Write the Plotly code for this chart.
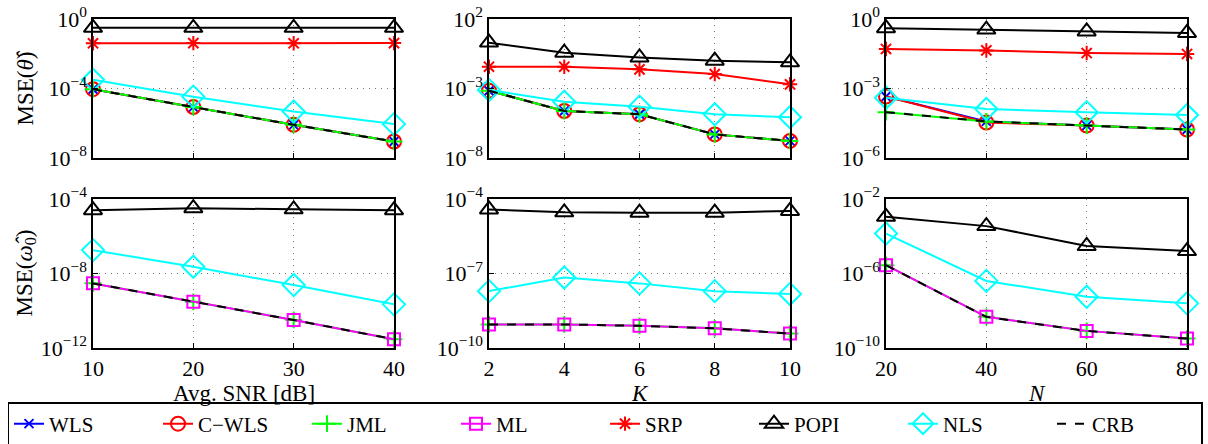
import plotly.graph_objects as go

# ---------------- data ----------------
snr = [10, 20, 30, 40]
K = [2, 4, 6, 8, 10]
N = [20, 40, 60, 80]

# MSE(theta) vs SNR
th_snr_wls = [9.1e-5, 8.5e-6, 8.1e-7, 8.9e-8]
th_snr_cwls = [9.1e-5, 8.5e-6, 8.1e-7, 8.9e-8]
th_snr_jml = [9.1e-5, 8.5e-6, 8.1e-7, 8.9e-8]
th_snr_srp = [0.040, 0.041, 0.040, 0.041]
th_snr_popi = [0.31, 0.31, 0.31, 0.31]
th_snr_nls = [3.2e-4, 3.4e-5, 4.7e-6, 8.9e-7]
th_snr_crb = [9.0e-5, 8.5e-6, 8.1e-7, 8.9e-8]

# MSE(theta) vs K
th_k_wls = [6.9e-4, 2.4e-5, 1.4e-5, 5.0e-7, 1.7e-7]
th_k_cwls = [6.9e-4, 2.4e-5, 1.4e-5, 5.0e-7, 1.7e-7]
th_k_jml = [6.9e-4, 2.4e-5, 1.4e-5, 5.0e-7, 1.7e-7]
th_k_srp = [0.037, 0.037, 0.024, 0.011, 0.002]
th_k_popi = [2.0, 0.38, 0.17, 0.10, 0.076]
th_k_nls = [7.9e-4, 1.1e-4, 4.9e-5, 1.4e-5, 8.5e-6]
th_k_crb = [6.9e-4, 2.4e-5, 1.4e-5, 5.0e-7, 1.7e-7]

# MSE(theta) vs N
th_n_wls = [4.5e-4, 3.8e-5, 2.5e-5, 1.7e-5]
th_n_cwls = [4.5e-4, 3.4e-5, 2.5e-5, 1.7e-5]
th_n_jml = [9.5e-5, 3.8e-5, 2.5e-5, 1.7e-5]
th_n_srp = [0.051, 0.044, 0.034, 0.031]
th_n_popi = [0.40, 0.35, 0.29, 0.25]
th_n_nls = [4.0e-4, 1.3e-4, 9.5e-5, 7.2e-5]
th_n_crb = [9.5e-5, 3.8e-5, 2.5e-5, 1.7e-5]

# MSE(omega0) vs SNR
om_snr_jml = [2.95e-9, 3.0e-10, 3.2e-11, 2.95e-12]
om_snr_ml = [2.95e-9, 3.0e-10, 3.2e-11, 2.95e-12]
om_snr_popi = [2.5e-5, 3.2e-5, 2.8e-5, 2.5e-5]
om_snr_nls = [1.8e-7, 2.3e-8, 2.4e-9, 2.2e-10]
om_snr_crb = [2.95e-9, 3.0e-10, 3.2e-11, 2.95e-12]

# MSE(omega0) vs K
om_k_jml = [8.9e-10, 8.9e-10, 7.8e-10, 6.2e-10, 3.8e-10]
om_k_ml = [8.9e-10, 8.9e-10, 7.8e-10, 6.2e-10, 3.8e-10]
om_k_popi = [3.8e-5, 2.9e-5, 2.8e-5, 2.8e-5, 3.3e-5]
om_k_nls = [1.95e-8, 6.9e-8, 4.0e-8, 1.95e-8, 1.5e-8]
om_k_crb = [8.9e-10, 8.9e-10, 7.8e-10, 6.2e-10, 3.8e-10]

# MSE(omega0) vs N
om_n_jml = [2.8e-6, 4.7e-9, 8.3e-10, 3.2e-10]
om_n_ml = [2.8e-6, 4.7e-9, 8.3e-10, 3.2e-10]
om_n_popi = [1.1e-3, 3.5e-4, 3.0e-5, 1.6e-5]
om_n_nls = [1.4e-4, 4.0e-7, 5.6e-8, 2.5e-8]
om_n_crb = [2.8e-6, 4.7e-9, 8.3e-10, 3.2e-10]

# tick values
x_ticks = [snr, K, N]
y_exps = [
    [-8, -4, 0], [-8, -3, 2], [-6, -3, 0],
    [-12, -8, -4], [-10, -7, -4], [-10, -6, -2],
]
x_titles = ["Avg. SNR [dB]", "<i>K</i>", "<i>N</i>"]
y_titles = ["MSE(<i>\u03b8\u0302</i>)", "MSE(<i>\u03c9\u0302</i><sub>0</sub>)"]

# ---------------- styles ----------------
FONT = "Liberation Serif"
styles = {
    "WLS": dict(color="#0000ff", symbol="x-thin-open", size=9, dash="solid", rank=1),
    "C\u2212WLS": dict(color="#ff0000", symbol="circle-open", size=14, dash="solid", rank=2),
    "JML": dict(color="#00ff00", symbol="cross-thin-open", size=12, dash="solid", rank=3),
    "ML": dict(color="#ff00ff", symbol="square-open", size=12, dash="solid", rank=4),
    "SRP": dict(color="#ff0000", symbol="asterisk-open", size=12, dash="solid", rank=5),
    "POPI": dict(color="#000000", symbol="triangle-up-open", size=16, dash="solid", rank=6),
    "NLS": dict(color="#00ffff", symbol="diamond-open", size=17, dash="solid", rank=7),
    "CRB": dict(color="#000000", symbol=None, size=0, dash="dash", rank=8),
}

panels = [
    (snr, [("WLS", th_snr_wls), ("C\u2212WLS", th_snr_cwls), ("JML", th_snr_jml),
           ("SRP", th_snr_srp), ("POPI", th_snr_popi), ("NLS", th_snr_nls), ("CRB", th_snr_crb)]),
    (K, [("WLS", th_k_wls), ("C\u2212WLS", th_k_cwls), ("JML", th_k_jml),
         ("SRP", th_k_srp), ("POPI", th_k_popi), ("NLS", th_k_nls), ("CRB", th_k_crb)]),
    (N, [("WLS", th_n_wls), ("C\u2212WLS", th_n_cwls), ("JML", th_n_jml),
         ("SRP", th_n_srp), ("POPI", th_n_popi), ("NLS", th_n_nls), ("CRB", th_n_crb)]),
    (snr, [("JML", om_snr_jml), ("ML", om_snr_ml), ("POPI", om_snr_popi),
           ("NLS", om_snr_nls), ("CRB", om_snr_crb)]),
    (K, [("JML", om_k_jml), ("ML", om_k_ml), ("POPI", om_k_popi),
         ("NLS", om_k_nls), ("CRB", om_k_crb)]),
    (N, [("JML", om_n_jml), ("ML", om_n_ml), ("POPI", om_n_popi),
         ("NLS", om_n_nls), ("CRB", om_n_crb)]),
]

# full-window figure; the page's default body margin is removed below
W, H = 1208, 444
xdom_px = [(93, 394), (489, 790), (886, 1187)]
ydom_px = [(19, 158), (199, 348)]

fig = go.Figure()
shown = set()
for i, (xv, series) in enumerate(panels):
    ax = "" if i == 0 else str(i + 1)
    for name, yv in series:
        st = styles[name]
        mk = dict(symbol=st["symbol"], size=st["size"], color=st["color"],
                  line=dict(color=st["color"], width=2)) if st["symbol"] else None
        fig.add_trace(go.Scatter(
            x=xv, y=yv, name=name, legendgroup=name, legendrank=st["rank"],
            showlegend=name not in shown,
            mode="lines+markers" if st["symbol"] else "lines",
            line=dict(color=st["color"], width=2, dash=st["dash"]),
            marker=mk, xaxis="x" + ax, yaxis="y" + ax, cliponaxis=False,
        ))
        shown.add(name)

layout = {}
annotations = []
for i in range(6):
    r, c = divmod(i, 3)
    ax = "" if i == 0 else str(i + 1)
    x0, x1 = xdom_px[c]
    y0, y1 = ydom_px[r]
    xt = x_ticks[c]
    layout["xaxis" + ax] = dict(
        domain=[x0 / W, x1 / W], anchor="y" + ax, range=[xt[0], xt[-1]],
        tickvals=xt, ticktext=[str(v) for v in xt], showticklabels=(r == 1),
        ticks="inside", ticklen=5, tickcolor="black", ticklabeloverflow="allow",
        showline=True, mirror=True, linecolor="black", linewidth=1.5,
        showgrid=True, gridcolor="#777777", griddash="1px,5px", gridwidth=1,
        zeroline=False, tickfont=dict(family=FONT, size=22, color="black"),
    )
    ex = y_exps[i]
    layout["yaxis" + ax] = dict(
        domain=[1 - y1 / H, 1 - y0 / H], anchor="x" + ax, type="log",
        range=[ex[0], ex[-1]], tickvals=[10.0 ** e for e in ex],
        ticktext=["10<sup>%s</sup>" % (str(e).replace("-", "\u2212")) for e in ex],
        ticks="inside", ticklen=5, tickcolor="black", ticklabeloverflow="allow",
        showline=True, mirror=True, linecolor="black", linewidth=1.5,
        showgrid=True, gridcolor="#777777", griddash="1px,5px", gridwidth=1,
        zeroline=False, tickfont=dict(family=FONT, size=22, color="black"),
    )
    if r == 1:
        annotations.append(dict(
            text=x_titles[c], xref="paper", yref="paper",
            x=(x0 + x1) / 2 / W, y=1 - 393 / H, xanchor="center", yanchor="middle",
            showarrow=False, font=dict(family=FONT, size=23, color="black")))
    if c == 0:
        annotations.append(dict(
            text=y_titles[r], xref="paper", yref="paper", textangle=-90,
            x=25 / W, y=1 - (y0 + y1) / 2 / H, xanchor="center", yanchor="middle",
            showarrow=False, font=dict(family=FONT, size=23, color="black")))

fig.update_layout(
    **layout,
    annotations=annotations,
    width=W, height=H,
    margin=dict(l=0, r=0, t=0, b=0, autoexpand=False),
    paper_bgcolor="white", plot_bgcolor="white",
    font=dict(family=FONT, size=20, color="black"),
    hovermode=False,
    legend=dict(
        orientation="h", x=605 / W, xanchor="center", y=1 - 424 / H, yanchor="middle",
        bordercolor="black", borderwidth=1.5, bgcolor="white",
        entrywidth=104, entrywidthmode="pixels",
        font=dict(family=FONT, size=21, color="black"),
        traceorder="normal",
    ),
)

fig.write_html(
    "out.html",
    config={"displayModeBar": False},
    post_script="document.body.style.margin='0px';document.body.style.overflow='hidden';",
)
